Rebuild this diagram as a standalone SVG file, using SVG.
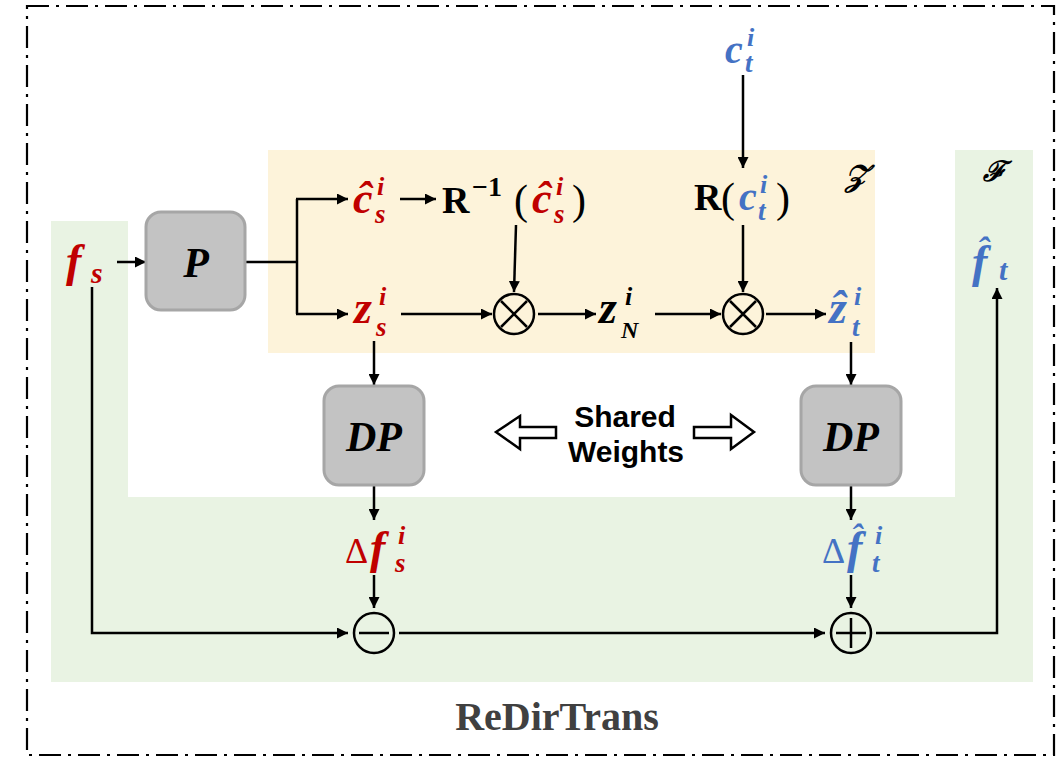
<svg xmlns="http://www.w3.org/2000/svg" width="1064" height="757" viewBox="0 0 1064 757">
<defs>
<style>
.m{font-family:"Liberation Serif","DejaVu Serif",serif;font-weight:bold;font-style:italic}
.u{font-family:"Liberation Serif","DejaVu Serif",serif;font-weight:bold}
.p{font-family:"Liberation Serif","DejaVu Serif",serif;font-weight:normal}
.red{fill:#c00000}
.blue{fill:#4472c4}
.blk{fill:#000}
.box{fill:#c3c3c3;stroke:#a6a6a6;stroke-width:3}
.ln{fill:none;stroke:#000;stroke-width:2.5}
.ar{fill:none;stroke:#000;stroke-width:2.5;marker-end:url(#ah)}
.op{fill:none;stroke:#000;stroke-width:2.5}
.sw{font-family:"Liberation Sans",Arial,sans-serif;font-weight:bold;font-size:30px;fill:#000}
.hol{fill:#fff;stroke:#000;stroke-width:2.5}
</style>
<marker id="ah" viewBox="0 0 10 10" refX="10" refY="5" markerWidth="4.4" markerHeight="4.4" orient="auto" markerUnits="strokeWidth">
<path d="M0,0 L10,5 L0,10 z" fill="#000"/>
</marker>
</defs>
<rect x="0" y="0" width="1064" height="757" fill="#fff"/>
<g id="regions">
<path d="M51,221 H128 V497 H955 V150 H1033 V682 H51 Z" fill="#e9f3e3"/>
<rect x="268" y="150" width="607" height="203" fill="#fdf3da"/>
<rect x="27" y="6" width="1027" height="749" fill="none" stroke="#000" stroke-width="2.2" stroke-dasharray="22 7 3 7"/>
<text x="845" y="186" class="m" font-size="30">𝒵</text>
<text x="983" y="181" class="m" font-size="28">ℱ</text>
</g>
<g id="connectors">
<line x1="117" y1="262" x2="146" y2="262" class="ar"/>
<polyline points="245,262 297,262" class="ln"/>
<polyline points="297,199 297,314" class="ln"/>
<line x1="296" y1="199" x2="348" y2="199" class="ar"/>
<line x1="296" y1="314" x2="348" y2="314" class="ar"/>
<line x1="400" y1="199" x2="436" y2="199" class="ar"/>
<line x1="516" y1="225" x2="514" y2="292" class="ar"/>
<line x1="401" y1="314" x2="492" y2="314" class="ar"/>
<line x1="538" y1="314" x2="596" y2="314" class="ar"/>
<line x1="655" y1="314" x2="721" y2="314" class="ar"/>
<line x1="766" y1="314" x2="826" y2="314" class="ar"/>
<line x1="743" y1="75" x2="743" y2="168" class="ar"/>
<line x1="743" y1="225" x2="743" y2="292" class="ar"/>
<line x1="374" y1="341" x2="374" y2="385" class="ar"/>
<line x1="851" y1="342" x2="851" y2="385" class="ar"/>
<line x1="374" y1="486" x2="374" y2="520" class="ar"/>
<line x1="851" y1="486" x2="851" y2="520" class="ar"/>
<line x1="374" y1="575" x2="374" y2="608" class="ar"/>
<line x1="851" y1="575" x2="851" y2="608" class="ar"/>
<polyline points="92,287 92,633 348,633" class="ar"/>
<line x1="399" y1="633" x2="825" y2="633" class="ar"/>
<polyline points="876,633 997,633 997,288" class="ar"/>
</g>
<g id="op-mul1">
<circle cx="514" cy="314" r="20" class="op"/>
<path d="M501,301 L527,327 M527,301 L501,327" class="op"/>
</g>
<g id="op-mul2">
<circle cx="743" cy="314" r="20" class="op"/>
<path d="M730,301 L756,327 M756,301 L730,327" class="op"/>
</g>
<g id="op-minus">
<circle cx="374" cy="633" r="20" class="op"/>
<path d="M359,633 H389" class="op"/>
</g>
<g id="op-plus">
<circle cx="851" cy="633" r="20" class="op"/>
<path d="M836,633 H866 M851,618 V648" class="op"/>
</g>
<g id="node-P">
<rect x="146" y="212" width="99" height="98" rx="15" class="box"/>
<text x="196" y="277" class="m" font-size="42" text-anchor="middle">P</text>
</g>
<g id="node-DP1">
<rect x="324" y="386" width="100" height="99" rx="15" class="box"/>
<text x="374" y="451" class="m" font-size="42" text-anchor="middle">DP</text>
</g>
<g id="node-DP2">
<rect x="801" y="386" width="100" height="99" rx="15" class="box"/>
<text x="851" y="451" class="m" font-size="42" text-anchor="middle">DP</text>
</g>
<g id="shared-weights">
<path d="M496,432 L520,416 L520,427 L556,427 L556,438 L520,438 L520,449 Z" class="hol"/>
<path d="M754,432 L731,415 L731,427 L694,427 L694,438 L731,438 L731,449 Z" class="hol"/>
<text x="625" y="427" class="sw" text-anchor="middle">Shared</text>
<text x="626" y="462" class="sw" text-anchor="middle">Weights</text>
</g>
<g id="label-fs">
<text x="66" y="276" class="m red" font-size="46">f</text>
<text x="91" y="283" class="m red" font-size="30">s</text>
</g>
<g id="label-chat-s">
<text x="353" y="213" class="m red" font-size="44">ĉ</text>
<text x="377" y="195" class="m red" font-size="26">i</text>
<text x="375" y="223" class="m red" font-size="27">s</text>
</g>
<g id="label-Rinv">
<text x="442" y="213" class="u" font-size="38">R</text>
<text x="472" y="196" class="u" font-size="28">−1</text>
<text x="514" y="214" class="p" font-size="42">(</text>
<text x="532" y="213" class="m red" font-size="44">ĉ</text>
<text x="556" y="195" class="m red" font-size="26">i</text>
<text x="554" y="223" class="m red" font-size="27">s</text>
<text x="572" y="214" class="p" font-size="42">)</text>
</g>
<g id="label-ct">
<text x="725" y="63" class="m blue" font-size="40">c</text>
<text x="747" y="46" class="m blue" font-size="26">i</text>
<text x="745" y="72" class="m blue" font-size="27">t</text>
</g>
<g id="label-Rct">
<text x="694" y="210" class="u" font-size="38">R</text>
<text x="721" y="212" class="p" font-size="42">(</text>
<text x="739" y="210" class="m blue" font-size="40">c</text>
<text x="760" y="193" class="m blue" font-size="26">i</text>
<text x="758" y="220" class="m blue" font-size="27">t</text>
<text x="776" y="212" class="p" font-size="42">)</text>
</g>
<g id="label-zs">
<text x="354" y="323" class="m red" font-size="46">z</text>
<text x="379" y="305" class="m red" font-size="26">i</text>
<text x="376" y="336" class="m red" font-size="27">s</text>
</g>
<g id="label-zN">
<text x="599" y="323" class="m blk" font-size="46">z</text>
<text x="625" y="305" class="m blk" font-size="26">i</text>
<text x="621" y="338" class="m blk" font-size="24">N</text>
</g>
<g id="label-zhat-t">
<text x="829" y="323" class="m blue" font-size="46">ẑ</text>
<text x="854" y="305" class="m blue" font-size="26">i</text>
<text x="852" y="336" class="m blue" font-size="27">t</text>
</g>
<g id="label-dfs">
<text x="345" y="563" class="p red" font-size="36">Δ</text>
<text x="370" y="563" class="m red" font-size="46">f</text>
<text x="398" y="544" class="m red" font-size="26">i</text>
<text x="395" y="572" class="m red" font-size="27">s</text>
</g>
<g id="label-dfhat-t">
<text x="822" y="563" class="p blue" font-size="36">Δ</text>
<text x="847" y="563" class="m blue" font-size="46">f</text>
<text x="851" y="548" class="m blue" font-size="34">ˆ</text>
<text x="875" y="544" class="m blue" font-size="26">i</text>
<text x="872" y="572" class="m blue" font-size="27">t</text>
</g>
<g id="label-fhat-t">
<text x="972" y="277" class="m blue" font-size="46">f</text>
<text x="977" y="262" class="m blue" font-size="36">ˆ</text>
<text x="999" y="280" class="m blue" font-size="30">t</text>
</g>
<text x="557" y="730" class="u" font-size="40" fill="#404040" text-anchor="middle">ReDirTrans</text>
</svg>
